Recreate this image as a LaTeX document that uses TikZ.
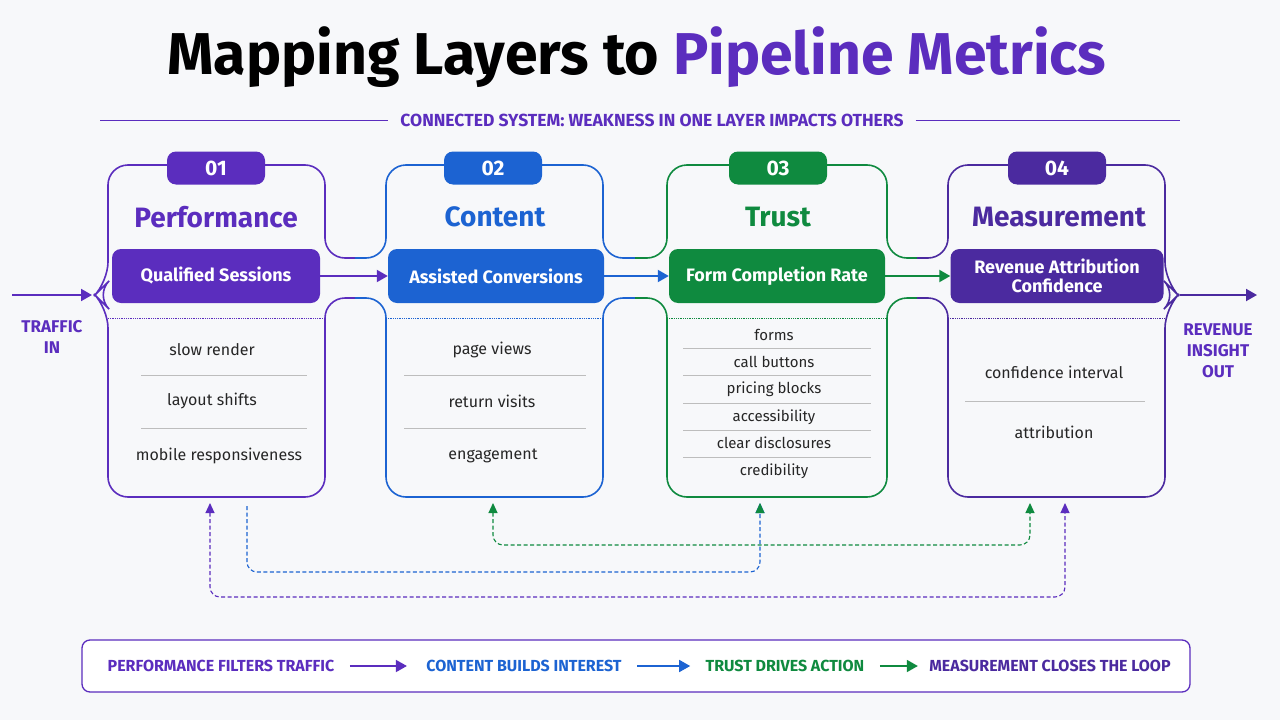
\documentclass[tikz,border=0pt]{standalone}
\usepackage{fontspec}
\setmainfont{Fira Sans}
\usetikzlibrary{arrows.meta, positioning}
\definecolor{bgc}{HTML}{F7F8FA}
\definecolor{cpur}{HTML}{5B2DBE}
\definecolor{cblu}{HTML}{1C63D2}
\definecolor{cgrn}{HTML}{0F8A3F}
\definecolor{cdpu}{HTML}{4B2A9F}
\definecolor{cgry}{HTML}{BDBDBD}
\tikzset{
	card/.style={draw=#1, line width=1.6pt, rounded corners=20pt},
	tab/.style={fill=#1, rounded corners=9pt, minimum width=98pt, minimum height=33pt, text=white, font=\fontsize{21}{21}\selectfont\bfseries},
	head/.style={fill=#1, rounded corners=9pt, minimum height=54pt, text=white, align=center, font=\fontsize{18}{19}\selectfont\bfseries},
	ctitle/.style={text=#1, font=\fontsize{28}{28}\selectfont\bfseries},
	item/.style={font=\fontsize{16}{16}\selectfont, text=black!85},
	sitem/.style={font=\fontsize{15}{15}\selectfont, text=black!85},
	sep/.style={draw=cgry, line width=0.6pt},
	flow/.style={draw=#1, line width=2pt, -{Triangle[length=11pt,width=12pt]}},
	loop/.style={draw=#1, line width=1.1pt, dash pattern=on 4pt off 2.5pt, rounded corners=10pt},
	side/.style={text=cpur, align=center, font=\fontsize{17}{21}\selectfont\bfseries},
	legend/.style={font=\fontsize{16}{16}\selectfont\bfseries, text=#1}
}
\begin{document}
\begin{tikzpicture}[x=1pt, y=-1pt]
	\fill[bgc] (0,0) rectangle (1280,720);
	\useasboundingbox (0,0) rectangle (1280,720);

	% title
	\node[font=\fontsize{59}{59}\selectfont\bfseries] (title) at (637,57) {Mapping Layers to \textcolor{cpur}{Pipeline Metrics}};
	\node[text=cpur, font=\fontsize{17.5}{17.5}\selectfont\bfseries, inner xsep=12pt] (sub) at (652,120) {CONNECTED SYSTEM: WEAKNESS IN ONE LAYER IMPACTS OTHERS};
	\draw[cpur, line width=1pt] (100,120) -- (sub.west);
	\draw[cpur, line width=1pt] (sub.east) -- (1180,120);

	% card outlines
	\draw[card=cpur] (355,258) -- (325,258) -- (325,165) -- (108,165) -- (108,282) -- (95,295) -- (108,308) -- (108,497) -- (325,497) -- (325,298) -- (355,298);
	\draw[card=cblu] (355,258) -- (386,258) -- (386,165) -- (603,165) -- (603,258) -- (635,258);
	\draw[card=cblu] (355,298) -- (386,298) -- (386,497) -- (603,497) -- (603,298) -- (635,298);
	\draw[card=cgrn] (635,258) -- (667,258) -- (667,165) -- (887,165) -- (887,258) -- (917,258);
	\draw[card=cgrn] (635,298) -- (667,298) -- (667,497) -- (887,497) -- (887,298) -- (917,298);
	\draw[card=cdpu] (917,258) -- (948,258) -- (948,165) -- (1165,165) -- (1165,282) -- (1178,295) -- (1165,308) -- (1165,497) -- (948,497) -- (948,298) -- (917,298);

	% tabs and titles
	\node[tab=cpur] (t1) at (216,168) {01};
	\node[tab=cblu] (t2) at (493,168) {02};
	\node[tab=cgrn] (t3) at (778,168) {03};
	\node[tab=cdpu] (t4) at (1057,168) {04};
	\node[ctitle=cpur] (n1) at (216,217) {Performance};
	\node[ctitle=cblu] (n2) at (495,217) {Content};
	\node[ctitle=cgrn] (n3) at (778,217) {Trust};
	\node[ctitle=cdpu] (n4) at (1059,217) {Measurement};

	% metric headers
	\node[head=cpur, minimum width=208pt] (h1) at (216,276) {Qualified Sessions};
	\node[head=cblu, minimum width=216pt] (h2) at (496,276) {Assisted Conversions};
	\node[head=cgrn, minimum width=216pt] (h3) at (777,276) {Form Completion Rate};
	\node[head=cdpu, minimum width=213pt] (h4) at (1057,276) {Revenue Attribution\\Confidence};
	\draw[flow=cpur] (h1) -- (h2);
	\draw[flow=cblu] (h2) -- (h3);
	\draw[flow=cgrn] (h3) -- (h4);

	% dotted dividers
	\foreach \l/\r/\c in {108/325/cpur, 386/603/cblu, 667/887/cgrn, 948/1165/cdpu}
		\draw[\c, densely dotted, line width=0.8pt] (\l,318) -- (\r,318);

	% items
	\node[item] (a1) at (212,350) {slow render};
	\node[item] (a2) at (212,401) {layout shifts};
	\node[item] (a3) at (219,456) {mobile responsiveness};
	\node[item] (b1) at (492,350) {page views};
	\node[item] (b2) at (492,401) {return visits};
	\node[item] (b3) at (493,456) {engagement};
	\node[sitem] (c1) at (774,335) {forms};
	\node[sitem] (c2) at (774,362) {call buttons};
	\node[sitem] (c3) at (774,389) {pricing blocks};
	\node[sitem] (c4) at (774,417) {accessibility};
	\node[sitem] (c5) at (774,443) {clear disclosures};
	\node[sitem] (c6) at (774,471) {credibility};
	\node[item] (d1) at (1054,372) {confidence interval};
	\node[item] (d2) at (1054,432) {attribution};
	\foreach \y in {375,428} {
		\draw[sep] (141,\y) -- (307,\y);
		\draw[sep] (404,\y) -- (586,\y);
	}
	\foreach \y in {348,375,403,430,457}
		\draw[sep] (683,\y) -- (871,\y);
	\draw[sep] (965,401) -- (1145,401);

	% side labels
	\coordinate (inL) at (12,295);
	\coordinate (inR) at (92,295);
	\coordinate (outL) at (1180,295);
	\coordinate (outR) at (1257,295);
	\draw[flow=cpur] (inL) -- (inR);
	\draw[flow=cdpu] (outL) -- (outR);
	\node[side] (tin) at (52,337) {TRAFFIC\\IN};
	\node[side] (tout) at (1218,351) {REVENUE\\INSIGHT\\OUT};

	% feedback loops
	\coordinate (p1) at (210,503);
	\coordinate (p4) at (1065,503);
	\coordinate (q1) at (247,506);
	\coordinate (q3) at (760,503);
	\coordinate (g2) at (493,503);
	\coordinate (g4) at (1030,503);
	\draw[loop=cgrn, {Triangle[length=10pt,width=9pt]}-{Triangle[length=10pt,width=9pt]}] (g2) |- (760,545) -| (g4);
	\draw[loop=cblu, -{Triangle[length=10pt,width=9pt]}] (q1) |- (760,572) -- (q3);
	\fill[cgrn] (q3) -- ++(-4.5,10) -- ++(9,0) -- cycle;
	\draw[loop=cpur, {Triangle[length=10pt,width=9pt]}-{Triangle[length=10pt,width=9pt]}] (p1) |- (640,597) -| (p4);

	% legend
	\draw[cpur, line width=1.3pt, rounded corners=8pt, fill=white] (82,640) rectangle (1190,692);
	\node[legend=cpur] (l1) at (221,666) {PERFORMANCE FILTERS TRAFFIC};
	\node[legend=cblu] (l2) at (524,666) {CONTENT BUILDS INTEREST};
	\node[legend=cgrn] (l3) at (785,666) {TRUST DRIVES ACTION};
	\node[legend=cdpu] (l4) at (1050,666) {MEASUREMENT CLOSES THE LOOP};
	\draw[flow=cpur, line width=1.6pt] ([xshift=12pt]l1.east) -- ([xshift=-16pt]l2.west);
	\draw[flow=cblu, line width=1.6pt] ([xshift=12pt]l2.east) -- ([xshift=-12pt]l3.west);
	\draw[flow=cgrn, line width=1.6pt] ([xshift=12pt]l3.east) -- ([xshift=-8pt]l4.west);
\end{tikzpicture}
\end{document}
